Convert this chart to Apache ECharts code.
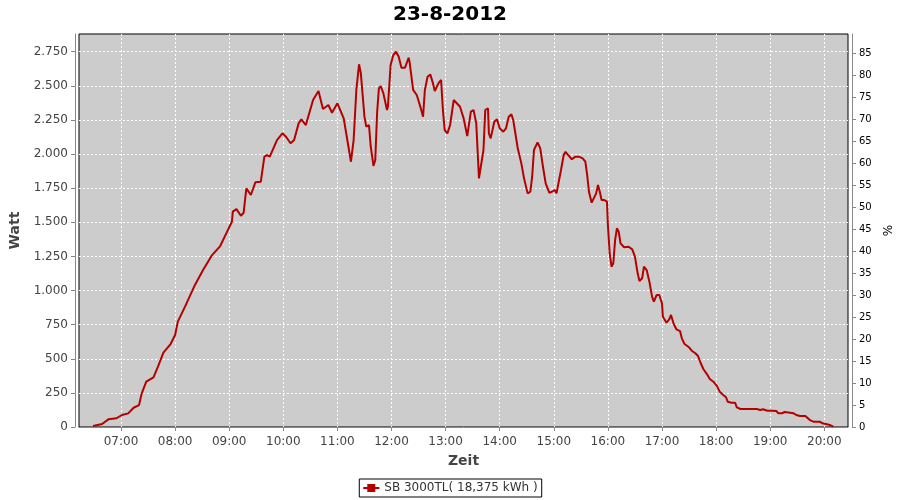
<!DOCTYPE html>
<html><head><meta charset="utf-8">
<script src="https://cdn.jsdelivr.net/npm/echarts@6/dist/echarts.min.js"></script>
<style>html,body{margin:0;padding:0;background:#fff}#c{width:900px;height:500px}</style>
</head><body><div id="c"></div><script>
const chartTitle = '23-8-2012';
const seriesName = 'SB 3000TL( 18,375 kWh )';
const xTitle = 'Zeit';
const yLeftTitle = 'Watt';
const yRightTitle = '%';

const times = ['06:29','06:39','06:46','06:55','07:01','07:08','07:14','07:20','07:23','07:28','07:36','07:41','07:47','07:55','08:00','08:03','08:11','08:22','08:31','08:41','08:50','08:55','09:03','09:04','09:08','09:13','09:16','09:19','09:24','09:29','09:35','09:39','09:42','09:45','09:53','09:59','10:03','10:08','10:12','10:17','10:20','10:25','10:33','10:39','10:44','10:50','10:54','11:00','11:07','11:11','11:15','11:18','11:21','11:24','11:26','11:30','11:32','11:35','11:37','11:40','11:42','11:44','11:46','11:48','11:51','11:55','11:56','11:59','12:02','12:05','12:08','12:11','12:15','12:19','12:20','12:24','12:28','12:32','12:35','12:37','12:40','12:43','12:46','12:48','12:52','12:55','12:57','12:59','13:02','13:05','13:09','13:11','13:16','13:20','13:24','13:26','13:28','13:31','13:34','13:37','13:39','13:42','13:44','13:47','13:48','13:50','13:54','13:57','14:00','14:04','14:07','14:10','14:13','14:15','14:18','14:20','14:24','14:27','14:31','14:34','14:36','14:38','14:42','14:45','14:48','14:51','14:55','14:58','15:01','15:03','15:05','15:08','15:11','15:13','15:16','15:20','15:24','15:28','15:32','15:35','15:37','15:39','15:42','15:44','15:47','15:49','15:51','15:53','15:56','15:59','16:00','16:02','16:04','16:06','16:08','16:10','16:12','16:14','16:18','16:23','16:27','16:30','16:33','16:35','16:38','16:40','16:43','16:46','16:49','16:51','16:54','16:57','17:00','17:01','17:05','17:08','17:10','17:13','17:16','17:20','17:22','17:25','17:30','17:33','17:37','17:40','17:43','17:46','17:50','17:53','17:57','18:01','18:04','18:08','18:11','18:13','18:17','18:21','18:23','18:27','18:34','18:45','18:49','18:52','18:54','18:57','19:02','19:07','19:09','19:13','19:16','19:18','19:26','19:29','19:33','19:39','19:41','19:44','19:48','19:55','19:58','20:03','20:06','20:10'];
const watts = [7,22,56,64,88,100,141,161,247,332,364,442,545,608,674,772,882,1041,1150,1260,1326,1395,1504,1578,1597,1548,1570,1749,1700,1793,1797,1981,1993,1981,2103,2152,2127,2079,2103,2225,2255,2213,2396,2462,2330,2360,2303,2372,2262,2103,1944,2103,2470,2658,2592,2274,2201,2213,2054,1913,1957,2299,2482,2499,2445,2323,2347,2653,2726,2750,2714,2633,2633,2706,2677,2470,2433,2347,2274,2470,2567,2584,2518,2462,2518,2543,2323,2176,2152,2213,2396,2409,2347,2262,2132,2132,2311,2323,2225,1822,1810,2030,2323,2336,2152,2115,2237,2255,2189,2164,2189,2274,2291,2250,2127,2042,1932,1822,1712,1724,1834,2030,2086,2042,1907,1785,1717,1724,1737,1712,1724,1883,1993,2017,1993,1962,1981,1981,1969,1944,1847,1724,1644,1639,1712,1773,1724,1663,1663,1651,1480,1273,1175,1200,1370,1456,1431,1346,1317,1321,1302,1248,1126,1070,1090,1175,1150,1065,955,918,967,967,906,808,764,789,821,755,716,703,650,608,584,559,540,520,467,423,386,352,332,300,259,234,218,185,178,178,144,132,132,132,125,130,132,119,119,117,100,100,110,100,100,88,81,81,75,51,39,39,27,20,15,2];

const hourTicks = ['07:00','08:00','09:00','10:00','11:00','12:00','13:00','14:00','15:00','16:00','17:00','18:00','19:00','20:00'];
const wattTicks = [0,250,500,750,1000,1250,1500,1750,2000,2250,2500,2750];
const pctTicks = [0,5,10,15,20,25,30,35,40,45,50,55,60,65,70,75,80,85];
const xRange = ['06:13','20:26'];
const wattMax = 2880;
const pctMax = 89.4;

function toMin(s){const p=s.split(':');return (+p[0])*60+(+p[1]);}
function fmtTime(v){const m=Math.round(v);const h=Math.floor(m/60),mm=m%60;return (h<10?'0':'')+h+':'+(mm<10?'0':'')+mm;}
function fmtWatt(v){return String(Math.round(v)).replace(/\B(?=(\d{3})+(?!\d))/g,'.');}

const data = times.map((t,i)=>[toMin(t), watts[i]]);
const FONT = 'DejaVu Sans';
const gridLine = {show:true,lineStyle:{color:'#ffffff',type:[2,2],width:1}};

const chart = echarts.init(document.getElementById('c'), null, {renderer:'canvas'});
chart.setOption({
  animation:false,
  backgroundColor:'#ffffff',
  title:{text:chartTitle,left:'center',top:0,textStyle:{fontFamily:FONT,fontSize:20,fontWeight:'bold',color:'#000'}},
  grid:{left:79,right:52,top:34,bottom:73,show:true,backgroundColor:'#cccccc',borderColor:'#000',borderWidth:1,containLabel:false,outerBoundsMode:'none'},
  legend:{
    data:[seriesName],bottom:3,left:'center',
    borderColor:'#000',borderWidth:1,padding:[3,4,3,3],
    itemWidth:16,itemHeight:10,itemGap:4,
    textStyle:{fontFamily:FONT,fontSize:12,color:'#333'}
  },
  xAxis:{
    type:'value',min:toMin(xRange[0])+0.4,max:toMin(xRange[1])+0.3,
    offset:3,
    name:xTitle,nameLocation:'middle',nameGap:24,
    nameTextStyle:{fontFamily:FONT,fontSize:14,fontWeight:'bold',color:'#444'},
    axisLine:{show:true,lineStyle:{color:'#888',width:1}},
    axisTick:{show:true,length:4,lineStyle:{color:'#888'},customValues:hourTicks.map(toMin)},
    axisLabel:{fontFamily:FONT,fontSize:12,color:'#444',margin:6,customValues:hourTicks.map(toMin),formatter:fmtTime},
    splitLine:gridLine
  },
  yAxis:[{
    type:'value',min:0,max:wattMax,position:'left',offset:4,
    name:yLeftTitle,nameLocation:'middle',nameGap:48,nameRotate:90,
    nameTextStyle:{fontFamily:FONT,fontSize:14,fontWeight:'bold',color:'#444'},
    axisLine:{show:true,lineStyle:{color:'#888',width:1}},
    axisTick:{show:true,length:4,lineStyle:{color:'#888'},customValues:wattTicks},
    axisLabel:{fontFamily:FONT,fontSize:12,color:'#444',margin:7,customValues:wattTicks,formatter:fmtWatt},
    splitLine:gridLine
  },{
    type:'value',min:0,max:pctMax,position:'right',offset:4,
    name:yRightTitle,nameLocation:'middle',nameGap:21,nameRotate:90,
    nameTextStyle:{fontFamily:FONT,fontSize:12,color:'#000'},
    axisLine:{show:true,lineStyle:{color:'#888',width:1}},
    axisTick:{show:true,length:4,lineStyle:{color:'#888'},customValues:pctTicks},
    axisLabel:{fontFamily:FONT,fontSize:10,color:'#000',margin:7,customValues:pctTicks},
    splitLine:{show:false}
  }],
  series:[{
    name:seriesName,type:'line',data:data,yAxisIndex:0,
    showSymbol:false,symbol:'rect',symbolSize:4,
    lineStyle:{color:'#b50000',width:2},itemStyle:{color:'#b50000'},
    smooth:false
  }]
});
</script></body></html>
